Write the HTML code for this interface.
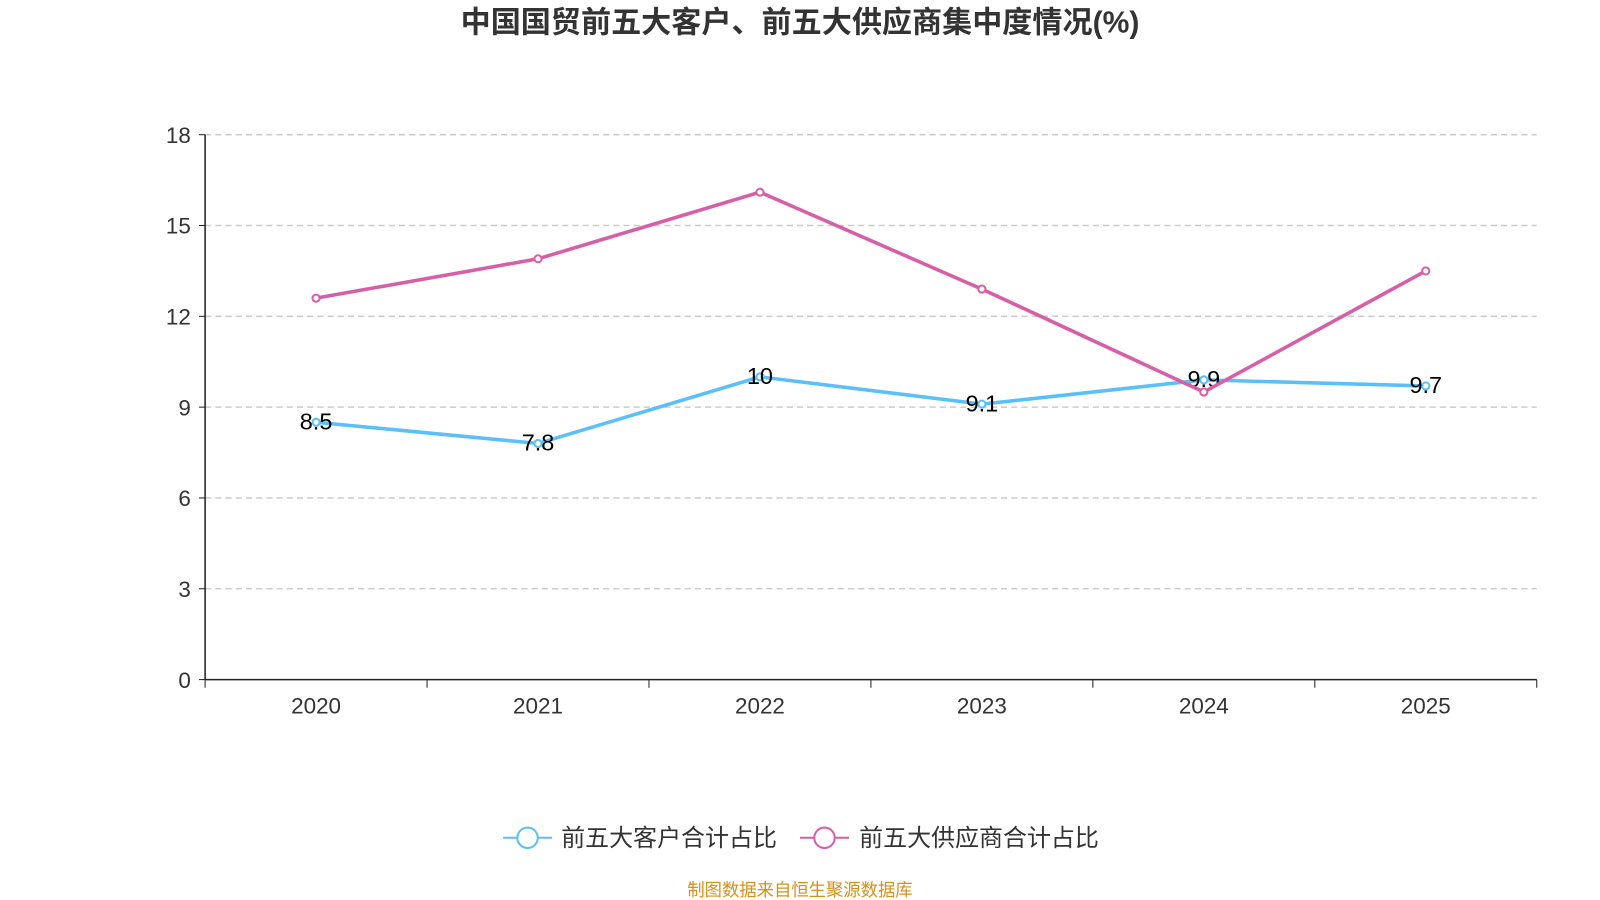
<!DOCTYPE html>
<html><head><meta charset="utf-8"><style>
body{margin:0;background:#fff;width:1600px;height:900px;overflow:hidden;font-family:"Liberation Sans","Noto Sans CJK SC",sans-serif;}
svg{display:block}
</style></head><body>
<svg id="chart" width="1600" height="900" viewBox="0 0 1568 882" xmlns="http://www.w3.org/2000/svg">
<text x="784" y="32" text-anchor="middle" font-size="29.5" font-weight="bold" fill="#333" font-family="Liberation Sans, Noto Sans CJK SC, sans-serif">中国国贸前五大客户、前五大供应商集中度情况(%)</text>
<g id="grid"></g><g id="axes"></g><g id="series"></g>
<g>
<g>
<line x1="493" y1="821" x2="541" y2="821" stroke="#5bc0f8" stroke-width="2"/>
<circle cx="517" cy="821" r="10" fill="#fff" stroke="#5bc0f8" stroke-width="2"/>
<text x="550" y="829" font-size="23.5" fill="#333">前五大客户合计占比</text></g>
<g>
<line x1="784" y1="821" x2="832" y2="821" stroke="#d65fa8" stroke-width="2"/>
<circle cx="808" cy="821" r="10" fill="#fff" stroke="#d65fa8" stroke-width="2"/>
<text x="842" y="829" font-size="23.5" fill="#333">前五大供应商合计占比</text></g>
</g>
<text x="784" y="878" text-anchor="middle" font-size="17" fill="#d4901c">制图数据来自恒生聚源数据库</text>
</svg>
<script>
const categories=["2020","2021","2022","2023","2024","2025"];
const customers=[8.5,7.8,10,9.1,9.9,9.7];
const suppliers=[12.6,13.9,16.1,12.9,9.5,13.5];
const yTicks=[0,3,6,9,12,15,18];
const NS="http://www.w3.org/2000/svg";
const x0=201,x1=1506,yb=666,yt=132,ymax=18;
const band=(x1-x0)/categories.length;
const xs=i=>x0+band*(i+0.5);
const ys=v=>yb-(v/ymax)*(yb-yt);
function mk(t,a,p){const e=document.createElementNS(NS,t);for(const k in a)e.setAttribute(k,a[k]);p.appendChild(e);return e;}
const grid=document.getElementById('grid'),axes=document.getElementById('axes'),ser=document.getElementById('series');
yTicks.forEach(v=>{
 if(v>0){const g=mk('line',{x1:x0,x2:x1,y1:ys(v),y2:ys(v),stroke:'#ccc','stroke-dasharray':'6,4','stroke-width':1.5},grid);
 
 }
 const tk=mk('line',{x1:x0-6,x2:x0,y1:ys(v),y2:ys(v),stroke:'#222'},axes);
 
 
 const t=mk('text',{x:x0-14,y:ys(v)+8,'text-anchor':'end','font-size':22,fill:'#333'},axes);t.textContent=v;
 
 
});
const ya=mk('line',{x1:x0,x2:x0,y1:yt,y2:yb,stroke:'#222','stroke-width':1.5},axes);


const xa=mk('line',{x1:x0,x2:x1,y1:yb,y2:yb,stroke:'#222','stroke-width':1.5},axes);


for(let i=0;i<=categories.length;i++){const l=mk('line',{x1:x0+band*i,x2:x0+band*i,y1:yb,y2:yb+8,stroke:'#222'},axes);
 
 }
categories.forEach((c,i)=>{const t=mk('text',{x:xs(i),y:699,'text-anchor':'middle','font-size':22,fill:'#333'},axes);t.textContent=c;
 
 });
function draw(data,color,name,labels){
 const p=mk('polyline',{points:data.map((v,i)=>xs(i)+','+ys(v)).join(' '),fill:'none',stroke:color,'stroke-width':3.5},ser);
 
 
 data.forEach((v,i)=>{const c=mk('circle',{cx:xs(i),cy:ys(v),r:3.5,fill:'#fff',stroke:color,'stroke-width':2},ser);
  
  
  if(labels){const t=mk('text',{x:xs(i),y:ys(v)+7,'text-anchor':'middle','font-size':23,fill:'#000'},ser);t.textContent=v;
  
  }
 });
}
draw(customers,'#5bc0f8','customers',true);
draw(suppliers,'#d65fa8','suppliers',false);
</script>
</body></html>
